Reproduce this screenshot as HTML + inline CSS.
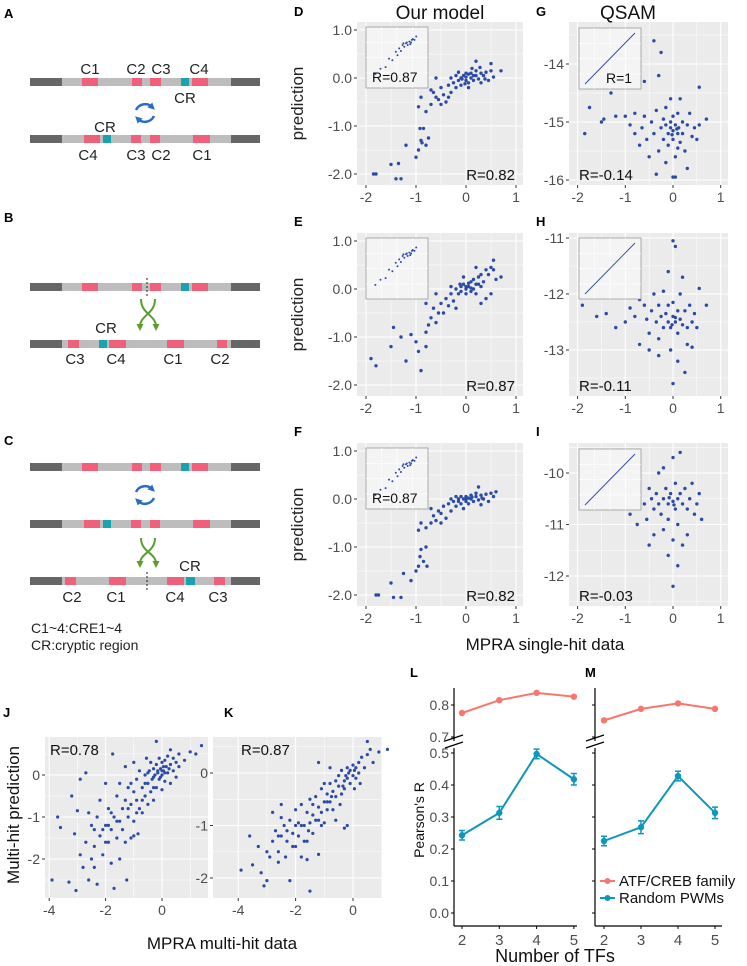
<!DOCTYPE html>
<html><head><meta charset="utf-8"><style>
html,body{margin:0;padding:0;background:#fff}
svg{display:block;font-family:"Liberation Sans",Arial,sans-serif}
</style></head><body>
<svg id="fig" width="747" height="966" viewBox="0 0 747 966" xmlns="http://www.w3.org/2000/svg">
<defs>
<marker id="ab" markerUnits="userSpaceOnUse" markerWidth="7" markerHeight="7" refX="3" refY="3.5" orient="auto"><path d="M0,0 L7,3.5 L0,7 z" fill="#2B6CC4"/></marker>
<marker id="ag" markerUnits="userSpaceOnUse" markerWidth="7" markerHeight="7" refX="3" refY="3.5" orient="auto"><path d="M0,0 L7,3.5 L0,7 z" fill="#5A9E2F"/></marker>
</defs>
<g id="diag"></g>
<g id="plots"></g>
<g id="lines"></g>
<g font-weight="bold" font-size="13" fill="#000">
<text x="4" y="18">A</text>
<text x="4" y="222">B</text>
<text x="4" y="445">C</text>
<text x="294" y="16">D</text>
<text x="536" y="16">G</text>
<text x="294" y="226">E</text>
<text x="536" y="226">H</text>
<text x="294" y="436">F</text>
<text x="536" y="436">I</text>
<text x="3" y="717">J</text>
<text x="224" y="717">K</text>
<text x="410" y="677">L</text>
<text x="585" y="677">M</text>
</g>
<text x="440" y="19" font-size="19" text-anchor="middle" fill="#111">Our model</text>
<text x="628" y="19" font-size="19" text-anchor="middle" fill="#111">QSAM</text>
<text x="545" y="650" font-size="17" text-anchor="middle" fill="#111">MPRA single-hit data</text>
<text x="222" y="949" font-size="17" text-anchor="middle" fill="#111">MPRA multi-hit data</text>
<text transform="translate(19,815) rotate(-90)" font-size="17" text-anchor="middle" fill="#111">Multi-hit prediction</text>
<text transform="translate(424,820) rotate(-90)" font-size="14" text-anchor="middle" fill="#111">Pearson's R</text>
<text x="555" y="962" font-size="18" text-anchor="middle" fill="#111">Number of TFs</text>
<text x="31" y="633" font-size="14" fill="#222">C1~4:CRE1~4</text>
<text x="31" y="650" font-size="14" fill="#222">CR:cryptic region</text>
</svg>
<script>
// ---------- scatter data ----------
const ptsD=[[-1.85,-2.0],[-1.8,-2.0],[-1.5,-1.8],[-1.4,-2.1],[-1.3,-2.1],[-1.35,-1.78],[-1.2,-1.4],[-1.0,-1.65],[-0.95,-1.5],[-0.9,-1.3],[-0.92,-1.05],[-0.85,-1.05],[-0.88,-1.35],[-0.8,-1.4],[-0.75,-1.25],[-0.95,-0.6],[-0.9,-0.4],[-0.8,-0.7],[-0.7,-0.55],[-0.65,-0.3],[-0.6,-0.4],[-0.55,-0.45],[-0.5,-0.2],[-0.45,-0.35],[-0.4,-0.5],[-0.35,-0.15],[-0.3,-0.3],[-0.3,0.0],[-0.25,-0.1],[-0.2,0.05],[-0.2,-0.2],[-0.15,-0.05],[-0.1,0.0],[-0.1,-0.15],[-0.05,0.05],[0.0,-0.05],[0.0,0.02],[0.05,0.08],[0.05,-0.1],[0.1,0.0],[0.1,0.1],[0.15,-0.05],[0.2,0.05],[0.2,0.15],[0.25,-0.02],[0.3,0.1],[0.3,-0.1],[0.35,0.05],[0.4,0.12],[0.45,-0.05],[0.5,0.3],[0.5,0.15],[0.55,0.02],[0.7,0.15],[0.2,0.35],[-0.6,0.0],[-0.15,0.12],[0.05,-0.2],[-0.35,-0.4],[0.12,0.2],[-0.02,-0.12],[0.28,0.22],[-0.5,-0.55],[-0.7,-0.25],[0.0,0.1],[0.15,0.05],[-0.08,-0.02],[0.38,-0.02]];
const ptsE=[[-1.9,-1.45],[-1.8,-1.6],[-1.5,-1.2],[-1.45,-0.8],[-1.3,-1.0],[-1.2,-1.5],[-1.1,-0.95],[-1.0,-1.1],[-0.95,-1.3],[-0.9,-1.7],[-0.8,-1.2],[-0.8,-0.9],[-0.75,-0.75],[-0.7,-0.6],[-0.65,-0.4],[-0.6,-0.7],[-0.55,-0.5],[-0.5,-0.3],[-0.45,-0.5],[-0.4,-0.2],[-0.35,-0.35],[-0.3,-0.1],[-0.3,0.05],[-0.25,-0.25],[-0.2,0.0],[-0.15,-0.1],[-0.1,0.05],[-0.1,-0.05],[-0.05,0.1],[0.0,0.0],[0.0,-0.1],[0.05,0.12],[0.05,0.05],[0.1,0.15],[0.1,-0.05],[0.15,0.2],[0.15,0.0],[0.2,0.1],[0.2,-0.1],[0.25,0.25],[0.3,0.05],[0.3,0.3],[0.35,0.15],[0.4,-0.2],[0.4,0.4],[0.45,0.3],[0.5,0.45],[0.5,-0.1],[0.55,0.6],[0.55,0.4],[0.6,0.2],[0.7,0.25],[0.3,-0.3],[-0.2,-0.4],[-0.6,-0.1],[-0.8,-0.3],[0.2,0.45],[-0.05,0.25],[0.0,0.05],[0.1,0.02],[-0.12,0.1],[0.25,0.1]];
const ptsF=[[-1.8,-2.0],[-1.75,-2.0],[-1.5,-1.75],[-1.45,-2.05],[-1.3,-2.05],[-1.25,-1.55],[-1.1,-1.7],[-1.0,-1.5],[-0.95,-1.4],[-0.92,-1.2],[-0.9,-1.05],[-0.85,-1.3],[-0.8,-1.0],[-0.78,-1.4],[-0.95,-0.65],[-0.9,-0.5],[-0.8,-0.6],[-0.7,-0.5],[-0.65,-0.35],[-0.6,-0.45],[-0.55,-0.25],[-0.5,-0.3],[-0.45,-0.15],[-0.4,-0.4],[-0.35,-0.1],[-0.3,-0.25],[-0.3,0.0],[-0.25,-0.05],[-0.2,0.05],[-0.2,-0.15],[-0.15,0.0],[-0.1,0.05],[-0.1,-0.1],[-0.05,0.0],[0.0,-0.05],[0.0,0.05],[0.05,0.02],[0.05,-0.1],[0.1,0.0],[0.1,0.08],[0.15,-0.05],[0.2,0.05],[0.2,0.12],[0.25,-0.02],[0.3,0.08],[0.35,0.0],[0.4,0.1],[0.45,-0.05],[0.5,0.12],[0.55,0.05],[0.6,0.15],[0.25,0.25],[-0.5,-0.5],[-0.7,-0.2],[0.3,-0.12],[-0.05,-0.2],[0.0,0.0],[0.12,0.04],[-0.15,-0.05],[0.32,0.02]];
const ptsG=[[-1.85,-15.2],[-1.75,-14.75],[-1.5,-15.0],[-1.45,-14.95],[-1.3,-14.5],[-1.2,-14.9],[-1.0,-14.9],[-0.9,-15.05],[-0.8,-14.85],[-0.8,-15.2],[-0.7,-15.4],[-0.65,-15.1],[-0.6,-14.9],[-0.55,-15.3],[-0.5,-15.6],[-0.45,-15.0],[-0.4,-15.2],[-0.4,-13.6],[-0.35,-14.8],[-0.3,-15.5],[-0.3,-14.2],[-0.25,-15.1],[-0.2,-14.95],[-0.2,-15.3],[-0.15,-15.05],[-0.15,-14.75],[-0.1,-15.2],[-0.1,-15.4],[-0.05,-15.0],[-0.05,-15.1],[0.0,-15.15],[0.0,-14.9],[0.0,-15.3],[0.05,-15.05],[0.05,-15.6],[0.1,-15.2],[0.1,-14.85],[0.12,-15.1],[0.15,-15.35],[0.15,-14.6],[0.2,-15.0],[0.2,-15.2],[0.25,-15.5],[0.3,-15.05],[0.35,-14.85],[0.4,-15.25],[0.45,-15.1],[0.5,-15.3],[0.55,-15.05],[0.55,-14.4],[0.7,-14.95],[-0.25,-13.8],[-0.6,-14.3],[0.0,-15.95],[0.05,-15.95],[-0.15,-15.7],[0.3,-15.8],[-0.35,-15.9],[0.1,-15.45],[-0.05,-14.6],[0.08,-15.12],[-0.02,-15.22]];
const ptsH=[[-1.9,-12.2],[-1.6,-12.4],[-1.4,-12.35],[-1.2,-12.6],[-1.0,-12.5],[-0.9,-12.25],[-0.8,-12.4],[-0.7,-12.9],[-0.6,-12.2],[-0.55,-12.45],[-0.5,-12.7],[-0.45,-12.3],[-0.4,-12.0],[-0.35,-12.5],[-0.3,-12.2],[-0.3,-12.8],[-0.25,-12.4],[-0.2,-12.6],[-0.2,-11.95],[-0.15,-12.35],[-0.1,-12.5],[-0.1,-12.2],[-0.05,-12.6],[0.0,-12.4],[0.0,-11.05],[0.0,-12.15],[0.05,-12.5],[0.05,-11.15],[0.1,-12.3],[0.1,-12.7],[0.15,-12.45],[0.15,-12.0],[0.2,-12.55],[0.2,-11.7],[0.25,-12.3],[0.3,-12.6],[0.3,-12.9],[0.35,-12.2],[0.4,-12.5],[0.45,-12.35],[0.5,-12.6],[0.55,-11.9],[0.7,-12.2],[-0.1,-11.6],[-0.05,-13.0],[0.1,-13.2],[-0.3,-13.1],[0.25,-13.4],[0.0,-13.6],[-0.5,-13.0],[0.4,-12.95],[-0.7,-12.1],[0.05,-12.42],[-0.02,-12.55]];
const ptsI=[[-1.6,-10.45],[-1.4,-10.55],[-1.2,-10.6],[-1.0,-10.3],[-0.9,-10.8],[-0.8,-10.5],[-0.75,-11.0],[-0.7,-10.4],[-0.6,-10.6],[-0.55,-10.9],[-0.5,-10.3],[-0.45,-10.5],[-0.4,-10.7],[-0.4,-11.2],[-0.35,-10.4],[-0.3,-10.6],[-0.3,-10.0],[-0.25,-10.8],[-0.2,-10.5],[-0.2,-11.1],[-0.15,-10.3],[-0.1,-10.6],[-0.1,-10.9],[-0.05,-10.4],[0.0,-10.55],[0.0,-11.3],[0.0,-9.7],[0.05,-10.7],[0.05,-10.2],[0.1,-10.5],[0.1,-11.0],[0.15,-10.4],[0.2,-10.6],[0.2,-11.4],[0.25,-10.3],[0.3,-10.7],[0.35,-10.5],[0.4,-10.2],[0.45,-10.8],[0.5,-10.6],[0.55,-10.4],[0.6,-10.9],[0.1,-11.8],[-0.1,-11.6],[0.0,-12.2],[-0.5,-11.4],[0.3,-11.2],[-0.2,-9.9],[0.15,-9.6],[0.02,-10.62],[-0.08,-10.48]];
const ptsJ=[[-3.9,-2.5],[-3.7,-1.0],[-3.6,-1.25],[-3.3,-2.55],[-3.2,-0.5],[-3.1,-1.4],[-3.05,-2.75],[-3.0,-0.85],[-2.9,-0.1],[-2.9,-1.9],[-2.8,-2.2],[-2.7,-1.6],[-2.6,-0.9],[-2.6,-2.5],[-2.5,-1.2],[-2.5,-2.0],[-2.4,-1.7],[-2.3,-1.0],[-2.3,-2.6],[-2.2,-1.45],[-2.2,-0.6],[-2.1,-1.9],[-2.0,-1.2],[-2.0,-0.2],[-1.9,-1.6],[-1.9,-0.8],[-1.8,-2.1],[-1.8,-1.3],[-1.75,0.5],[-1.7,-1.0],[-1.7,-2.7],[-1.6,-0.5],[-1.6,-1.5],[-1.5,-1.1],[-1.5,-0.2],[-1.5,-2.0],[-1.4,-0.8],[-1.4,-1.3],[-1.3,0.2],[-1.3,-0.6],[-1.25,-2.5],[-1.2,-1.0],[-1.2,-0.3],[-1.1,-1.5],[-1.1,-0.7],[-1.0,-0.4],[-1.0,-1.1],[-1.0,0.3],[-0.9,-0.6],[-0.9,-0.1],[-0.85,-1.4],[-0.8,-0.8],[-0.8,0.1],[-0.7,-0.3],[-0.7,-0.9],[-0.6,0.0],[-0.6,-0.5],[-0.55,0.4],[-0.5,-0.2],[-0.5,-0.7],[-0.45,0.1],[-0.4,-0.4],[-0.4,0.3],[-0.35,-0.1],[-0.3,0.15],[-0.3,-0.6],[-0.25,0.0],[-0.2,0.25],[-0.2,-0.3],[-0.15,0.05],[-0.1,0.4],[-0.1,-0.1],[-0.05,0.15],[0.0,0.0],[0.0,0.3],[0.0,-0.35],[0.05,0.1],[0.1,0.35],[0.1,-0.15],[0.15,0.2],[0.2,0.05],[0.2,0.45],[0.3,0.25],[0.3,-0.2],[0.4,0.4],[0.4,0.1],[0.5,0.3],[0.5,-0.05],[0.6,0.5],[0.6,0.2],[0.8,0.35],[1.0,0.55],[1.2,0.5],[1.4,0.7],[-0.2,0.8],[-1.0,-1.45],[-2.7,0.05],[0.3,0.6],[-0.05,-0.05],[0.05,0.2],[-0.15,0.1],[0.1,0.05],[-0.3,-0.05],[0.25,0.15],[-2.0,-1.6],[-1.2,-0.8],[-0.6,-0.2],[-2.4,-1.3],[-1.8,-0.9],[-0.9,-0.9],[-2.1,-1.3],[-1.6,-1.1],[-1.3,-1.6],[-0.7,-0.6],[-0.3,-0.3],[-2.4,-2.2],[-1.1,-0.2],[0.0,0.1],[-0.5,0.05],[-1.9,-1.2]];
const ptsK=[[-3.9,-1.85],[-3.6,-1.2],[-3.5,-1.75],[-3.3,-1.4],[-3.2,-1.9],[-3.1,-2.15],[-3.0,-2.05],[-3.0,-1.5],[-2.9,-1.6],[-2.8,-1.3],[-2.8,-0.75],[-2.7,-1.1],[-2.6,-1.5],[-2.5,-0.85],[-2.5,-1.2],[-2.4,-1.0],[-2.35,-1.6],[-2.3,-1.3],[-2.2,-0.9],[-2.2,-2.05],[-2.1,-1.15],[-2.0,-0.7],[-2.0,-1.4],[-1.9,-0.95],[-1.9,-1.2],[-1.8,-0.6],[-1.8,-1.6],[-1.7,-1.0],[-1.6,-0.75],[-1.6,-1.3],[-1.5,-0.5],[-1.5,-2.25],[-1.5,-0.95],[-1.4,-0.8],[-1.4,-1.15],[-1.3,-0.45],[-1.3,-0.9],[-1.2,-0.65],[-1.2,-1.55],[-1.1,-0.3],[-1.1,-0.75],[-1.0,-0.55],[-1.0,-0.95],[-0.9,-0.4],[-0.9,-0.7],[-0.8,-0.2],[-0.8,-0.55],[-0.7,-0.35],[-0.7,-0.7],[-0.6,-0.15],[-0.6,-0.45],[-0.5,-0.25],[-0.5,-0.05],[-0.4,-0.4],[-0.4,0.05],[-0.3,-0.15],[-0.3,-0.3],[-0.2,0.1],[-0.2,-0.1],[-0.1,-0.2],[-0.1,0.05],[0.0,-0.05],[0.0,0.15],[0.05,-0.3],[0.1,0.1],[0.1,-0.1],[0.2,0.2],[0.2,0.0],[0.3,0.3],[0.4,0.1],[0.5,0.35],[0.5,0.6],[0.7,0.2],[0.9,0.4],[1.2,0.45],[-0.3,-1.05],[-0.2,-1.0],[-0.8,0.1],[-1.2,0.2],[-2.5,-0.6],[-0.6,-0.9],[0.6,0.45],[-1.0,-0.2],[-1.6,-1.65],[-2.0,-1.0],[-1.4,-0.6],[-0.45,-0.6],[0.25,-0.2],[-2.6,-1.2],[-2.3,-1.1],[-1.7,-1.3],[-1.1,-1.0],[-0.75,-0.45],[-0.25,-0.05],[0.05,0.05],[-2.1,-1.4],[-1.8,-1.0],[-1.2,-0.9],[-0.9,-0.55],[-0.35,-0.25],[-0.15,0.0],[-1.55,-1.1],[-2.6,-1.7]];
const ptsInset=[[-1.8,-1.7],[-1.5,-1.4],[-1.2,-1.3],[-1.0,-0.8],[-0.8,-0.9],[-0.6,-0.4],[-0.5,-0.6],[-0.4,-0.2],[-0.3,-0.35],[-0.2,0.0],[-0.1,-0.1],[0,0.1],[0.1,0.0],[0.2,0.2],[0.3,0.15],[0.4,0.35],[0.5,0.3],[0.6,0.5],[0.05,0.15],[-0.15,0.1],[0.25,0.05],[0.35,0.3]];
const xTicksSingle=[-2,-1,0,1];
const yTicksOur=[1,0,-1,-2];
const yTickLabelsOur=["1.0","0.0","-1.0","-2.0"];
const yTicksG=[-14,-15,-16];
const yTicksH=[-11,-12,-13];
const yTicksI=[-10,-11,-12];
const xTicksMulti=[-4,-2,0];
const yTicksMulti=[0,-1,-2];
const rLabels=["R=0.82","R=0.87","R=0.82","R=-0.14","R=-0.11","R=-0.03","R=0.78","R=0.87"];

const NS="http://www.w3.org/2000/svg";
function mk(tag,attrs,parent){const e=document.createElementNS(NS,tag);for(const k in attrs)e.setAttribute(k,attrs[k]);parent.appendChild(e);return e;}
const plots=document.getElementById('plots');

function scatter(p){
  const g=mk('g',{},plots);
  
  
  const sx=v=>p.x0+p.kx*v, sy=v=>p.y0-p.ky*(v-p.yref);
  const bg=mk('rect',{x:p.l,y:p.t,width:p.r-p.l,height:p.b-p.t,fill:'#EBEBEB'},g);
  
  
  const xs=p.xt, ys=p.yt;
  const xstep=xs[1]-xs[0], ystep=ys[0]-ys[1];
  for(let v=xs[0]-xstep;v<=xs[xs.length-1]+xstep;v+=xstep/2){const px=sx(v);if(px<p.l||px>p.r)continue;const major=Math.abs(((v-xs[0])/xstep)%1)<1e-6;mk('line',{x1:px,x2:px,y1:p.t,y2:p.b,stroke:'#fff','stroke-width':major?1.1:0.5},g);}
  for(let v=ys[ys.length-1]-ystep;v<=ys[0]+ystep;v+=ystep/2){const py=sy(v);if(py<p.t||py>p.b)continue;const major=Math.abs(((v-ys[ys.length-1])/ystep)%1)<1e-6;mk('line',{y1:py,y2:py,x1:p.l,x2:p.r,stroke:'#fff','stroke-width':major?1.1:0.5},g);}
  xs.forEach(v=>{const px=sx(v);mk('line',{x1:px,x2:px,y1:p.b,y2:p.b+3,stroke:'#333','stroke-width':1},g);
    const t=mk('text',{x:px,y:p.b+17,'font-size':14,'text-anchor':'middle',fill:'#4D4D4D'},g);t.textContent=String(v);
    
    });
  ys.forEach((v,i)=>{const py=sy(v);mk('line',{x1:p.l-3,x2:p.l,y1:py,y2:py,stroke:'#333','stroke-width':1},g);
    const t=mk('text',{x:p.l-5,y:py+5,'font-size':14,'text-anchor':'end',fill:'#4D4D4D'},g);t.textContent=p.ytl?p.ytl[i]:String(v);
    
    });
  p.pts.forEach(d=>{const c=mk('circle',{cx:sx(d[0]),cy:sy(d[1]),r:p.rad||1.7,fill:'#2B4BA5'},g);
    
    });
  if(p.inset){
    const I=p.inset;const ig=mk('g',{},g);
    
    
    mk('rect',{x:I.x,y:I.y,width:62,height:61,fill:'#F4F4F4',stroke:'#999','stroke-width':0.8},ig);
    for(let k=1;k<4;k++){mk('line',{x1:I.x+k*15.5,x2:I.x+k*15.5,y1:I.y,y2:I.y+61,stroke:'#fff','stroke-width':0.6},ig);mk('line',{x1:I.x,x2:I.x+62,y1:I.y+k*15.3,y2:I.y+k*15.3,stroke:'#fff','stroke-width':0.6},ig);}
    const ix=v=>I.x+40+v*17, iy=v=>I.y+18-v*17;
    if(I.line){const ln=mk('line',{x1:I.x+6,y1:I.y+56,x2:I.x+56,y2:I.y+5,stroke:'#2B4BA5','stroke-width':0.9},ig);
      
      }
    else ptsInset.forEach(d=>{const c=mk('circle',{cx:ix(d[0]),cy:iy(d[1]),r:1,fill:'#2B4BA5'},ig);
      
      });
    if(I.label){const t=mk('text',{x:I.lx,y:I.y+55,'font-size':14,fill:'#111'},ig);t.textContent=I.label;
      
      }
  }
  const rl=mk('text',{x:p.rx,y:p.ry,'font-size':15,fill:'#111','text-anchor':p.ra||'start'},g);rl.textContent=p.rlab;
  
  
  if(p.ylab){const t=mk('text',{transform:`translate(${p.l-54},${(p.t+p.b)/2}) rotate(-90)`,'font-size':17,'text-anchor':'middle',fill:'#222'},g);t.textContent='prediction';
    
    }
}
const rowOff=[0,211,421];
[[ptsD,0,true],[ptsE,1,false],[ptsF,2,true]].forEach((a,i)=>{const o=rowOff[i];
  scatter({name:['scatter-d','scatter-e','scatter-f'][i],l:357,r:523,t:22+o,b:185+o,x0:466,kx:50,y0:78+o,ky:48,yref:0,xt:xTicksSingle,yt:yTicksOur,ytl:yTickLabelsOur,pts:a[0],
    inset:{x:366,y:27+o,label:a[2]?'R=0.87':null,lx:372},rx:515,ry:180+o,ra:'end',rlab:rLabels[i],ylab:true});});
scatter({name:'scatter-g',l:569,r:728,t:22,b:185,x0:673,kx:47.7,y0:64,ky:58,yref:-14,xt:xTicksSingle,yt:yTicksG,pts:ptsG,inset:{x:579,y:28,line:true,label:'R=1',lx:606},rx:579,ry:180,rlab:rLabels[3]});
scatter({name:'scatter-h',l:569,r:728,t:233,b:396,x0:673,kx:47.7,y0:238,ky:56,yref:-11,xt:xTicksSingle,yt:yTicksH,pts:ptsH,inset:{x:579,y:238,line:true},rx:579,ry:391,rlab:rLabels[4]});
scatter({name:'scatter-i',l:569,r:728,t:443,b:606,x0:673,kx:47.7,y0:473,ky:51.5,yref:-10,xt:xTicksSingle,yt:yTicksI,pts:ptsI,inset:{x:579,y:449,line:true},rx:579,ry:601,rlab:rLabels[5]});
scatter({name:'scatter-j',l:45,r:208,t:737,b:898,x0:162,kx:28.2,y0:775,ky:42,yref:0,xt:xTicksMulti,yt:yTicksMulti,pts:ptsJ,rx:50,ry:755,rlab:rLabels[6],rad:1.6});
scatter({name:'scatter-k',l:213,r:382,t:737,b:898,x0:353,kx:28.7,y0:773,ky:52.5,yref:0,xt:xTicksMulti,yt:yTicksMulti,pts:ptsK,rx:241,ry:755,rlab:rLabels[7],rad:1.6});

// ---------- Pearson panels ----------
const nTFs=[2,3,4,5];
const atfL=[0.775,0.815,0.838,0.826];
const pwmL=[0.243,0.313,0.497,0.418];
const atfM=[0.752,0.788,0.805,0.788];
const pwmM=[0.225,0.268,0.428,0.313];
const pwmErr=[0.015,0.02,0.015,0.018];
const yTicksLow=[0.0,0.1,0.2,0.3,0.4,0.5];
const yTicksHigh=[0.7,0.8];
const lines=document.getElementById('lines');
function pearson(name,ax,x0,kx,xEnd,atf,pwm,showLabels){
  const g=mk('g',{},lines);
  
  
  const sx=n=>x0+kx*(n-2);
  const syL=v=>913-320*v, syH=v=>705-320*(v-0.8);
  mk('line',{x1:ax,x2:ax,y1:688,y2:741,stroke:'#000','stroke-width':1.2},g);
  mk('line',{x1:ax,x2:ax,y1:748,y2:926,stroke:'#000','stroke-width':1.2},g);
  mk('line',{x1:ax,x2:xEnd,y1:926,y2:926,stroke:'#000','stroke-width':1.2},g);
  const br=mk('path',{d:`M${ax-9},${741} L${ax+9},${735} M${ax-9},${748} L${ax+9},${742}`,stroke:'#000','stroke-width':1.2,fill:'none'},g);
  
  
  yTicksLow.forEach(v=>{mk('line',{x1:ax-3,x2:ax,y1:syL(v),y2:syL(v),stroke:'#000'},g);
    if(showLabels){const t=mk('text',{x:ax-5,y:syL(v)+5,'font-size':14,'text-anchor':'end',fill:'#4D4D4D'},g);t.textContent=v.toFixed(1);
      
      }});
  yTicksHigh.forEach(v=>{mk('line',{x1:ax-3,x2:ax,y1:syH(v),y2:syH(v),stroke:'#000'},g);
    if(showLabels){const t=mk('text',{x:ax-5,y:syH(v)+5,'font-size':14,'text-anchor':'end',fill:'#4D4D4D'},g);t.textContent=v.toFixed(1);
      
      }});
  nTFs.forEach(n=>{mk('line',{x1:sx(n),x2:sx(n),y1:926,y2:929,stroke:'#000'},g);
    const t=mk('text',{x:sx(n),y:945,'font-size':15,'text-anchor':'middle',fill:'#4D4D4D'},g);t.textContent=String(n);
    
    });
  const pa=mk('polyline',{points:nTFs.map((n,i)=>sx(n)+','+syH(atf[i])).join(' '),fill:'none',stroke:'#F8766D','stroke-width':2},g);
  
  
  atf.forEach((v,i)=>{const c=mk('circle',{cx:sx(nTFs[i]),cy:syH(v),r:3.2,fill:'#F8766D'},g);
    
    });
  const pb=mk('polyline',{points:nTFs.map((n,i)=>sx(n)+','+syL(pwm[i])).join(' '),fill:'none',stroke:'#0E97B9','stroke-width':2},g);
  
  
  pwm.forEach((v,i)=>{const x=sx(nTFs[i]);
    const e=mk('path',{d:`M${x-3},${syL(v+pwmErr[i])}H${x+3}M${x},${syL(v+pwmErr[i])}V${syL(v-pwmErr[i])}M${x-3},${syL(v-pwmErr[i])}H${x+3}`,stroke:'#0E97B9','stroke-width':1.5,fill:'none'},g);
    
    
    const c=mk('circle',{cx:x,cy:syL(v),r:3.2,fill:'#0E97B9'},g);
    
    });
}
pearson('pearson-l',454,462,37.3,577,atfL,pwmL,true);
pearson('pearson-m',595,604,37,722,atfM,pwmM,false);
const lg=mk('g',{},lines);


[['ATF/CREB family','#F8766D',881],['Random PWMs','#0E97B9',898]].forEach(e=>{
  mk('line',{x1:600,x2:615,y1:e[2],y2:e[2],stroke:e[1],'stroke-width':2},lg);
  mk('circle',{cx:607.5,cy:e[2],r:3,fill:e[1]},lg);
  const t=mk('text',{x:619,y:e[2]+5,'font-size':15,fill:'#111'},lg);t.textContent=e[0];
  
  });

// ---------- schematic ----------
const diag=document.getElementById('diag');
function bar(y,pinks,teals,name){
  const g=mk('g',{},diag);
  
  
  mk('rect',{x:30,y:y-4,width:230,height:8,fill:'#BDBDBD'},g);
  mk('rect',{x:30,y:y-4,width:32,height:8,fill:'#666'},g);
  mk('rect',{x:231,y:y-4,width:29,height:8,fill:'#666'},g);
  pinks.forEach(p=>mk('rect',{x:p[0],y:y-4,width:p[1]-p[0],height:8,fill:'#F0607A'},g));
  teals.forEach(p=>mk('rect',{x:p[0],y:y-4,width:p[1]-p[0],height:8,fill:'#1AA3AE'},g));
}
function lab(x,y,s){const t=mk('text',{x:x,y:y,'font-size':15,'text-anchor':'middle',fill:'#222'},diag);t.textContent=s;
  
  }
function cycle(cx,cy){const g=mk('g',{},diag);
  
  
  mk('path',{d:`M${cx-9},${cy-3} A10,10 0 0 1 ${cx+7},${cy-6}`,stroke:'#2B6CC4','stroke-width':2.5,fill:'none','marker-end':'url(#ab)'},g);
  mk('path',{d:`M${cx+9},${cy+3} A10,10 0 0 1 ${cx-7},${cy+6}`,stroke:'#2B6CC4','stroke-width':2.5,fill:'none','marker-end':'url(#ab)'},g);}
function cross(cx,y1,y2){const g=mk('g',{},diag);
  
  
  mk('path',{d:`M${cx-7},${y1} C${cx-7},${(y1+y2)/2} ${cx+8},${(y1+y2)/2} ${cx+8},${y2-3}`,stroke:'#5A9E2F','stroke-width':2,fill:'none','marker-end':'url(#ag)'},g);
  mk('path',{d:`M${cx+7},${y1} C${cx+7},${(y1+y2)/2} ${cx-8},${(y1+y2)/2} ${cx-8},${y2-3}`,stroke:'#5A9E2F','stroke-width':2,fill:'none','marker-end':'url(#ag)'},g);}
function dash(x,y1,y2){const d=mk('line',{x1:x,x2:x,y1:y1,y2:y2,stroke:'#222','stroke-width':1,'stroke-dasharray':'2,2'},diag);
  
  }
const orig=[[82,98],[132,142],[150,161],[192,208]], origT=[[181,189]];
const swapped=[[84,100],[131,141],[150,160],[193,210]], swappedT=[[103,111]];
// A
bar(82,orig,origT,'sequence-a-original'); bar(139,swapped,swappedT,'sequence-a-swapped');
lab(90,74,'C1');lab(136,74,'C2');lab(161,74,'C3');lab(199,74,'C4');lab(185,103,'CR');
lab(105,132,'CR');lab(88,160,'C4');lab(136,160,'C3');lab(161,160,'C2');lab(202,160,'C1');
cycle(145,113);
// B
bar(287,orig,origT,'sequence-b-original'); dash(147,278,297);
cross(148,299,330);
bar(344,[[68,79],[109,126],[167,184],[217,227]],[[99,107]],'sequence-b-recombined');
lab(106,333,'CR');lab(75,364,'C3');lab(116,364,'C4');lab(173,364,'C1');lab(220,364,'C2');
// C
bar(467,orig,origT,'sequence-c-original');
cycle(145,495);
bar(524,swapped,swappedT,'sequence-c-swapped');
cross(148,538,567);
bar(581,[[65,76],[109,126],[167,184],[214,225]],[[186,195]],'sequence-c-recombined'); dash(147,572,592);
lab(190,571,'CR');lab(72,602,'C2');lab(116,602,'C1');lab(175,602,'C4');lab(218,602,'C3');
</script>
</body></html>
